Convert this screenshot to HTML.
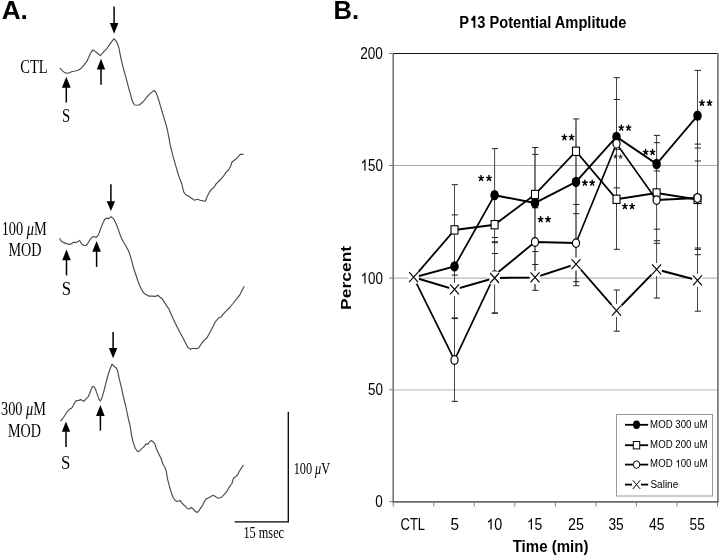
<!DOCTYPE html>
<html><head><meta charset="utf-8"><style>
html,body{margin:0;padding:0;background:#fff;}
svg{display:block;will-change:transform;}
</style></head><body>
<svg width="720" height="556" viewBox="0 0 720 556">
<rect width="720" height="556" fill="#fff"/>
<text transform="translate(1.64,19.00) scale(1.0017,1)" font-family='"Liberation Sans", sans-serif' font-weight="bold" font-size="26.18" fill="#000" >A.</text>
<text transform="translate(333.48,19.00) scale(0.9651,1)" font-family='"Liberation Sans", sans-serif' font-weight="bold" font-size="26.47" fill="#000" >B.</text>
<text transform="translate(20.22,73.00) scale(0.7868,1)" font-family='"Liberation Serif", serif' font-weight="normal" font-size="18.42" fill="#000" >CTL</text>
<text transform="translate(62.01,122.30) scale(0.8274,1)" font-family='"Liberation Serif", serif' font-weight="normal" font-size="17.81" fill="#000" >S</text>
<text transform="translate(61.86,294.50) scale(0.9376,1)" font-family='"Liberation Serif", serif' font-weight="normal" font-size="17.96" fill="#000" >S</text>
<text transform="translate(61.06,469.10) scale(0.9146,1)" font-family='"Liberation Serif", serif' font-weight="normal" font-size="18.42" fill="#000" >S</text>
<text transform="translate(1.64,234.70) scale(0.7891,1)" font-family='"Liberation Serif", serif' font-weight="normal" font-size="18.20" fill="#000" >100 <tspan font-style="italic">μ</tspan>M</text>
<text transform="translate(8.47,256.30) scale(0.7957,1)" font-family='"Liberation Serif", serif' font-weight="normal" font-size="17.81" fill="#000" >MOD</text>
<text transform="translate(1.02,414.90) scale(0.7926,1)" font-family='"Liberation Serif", serif' font-weight="normal" font-size="18.05" fill="#000" >300 <tspan font-style="italic">μ</tspan>M</text>
<text transform="translate(7.88,437.40) scale(0.7672,1)" font-family='"Liberation Serif", serif' font-weight="normal" font-size="18.42" fill="#000" >MOD</text>
<text transform="translate(293.63,473.80) scale(0.7290,1)" font-family='"Liberation Serif", serif' font-weight="normal" font-size="16.84" fill="#000" >100 <tspan font-style="italic">μ</tspan>V</text>
<text transform="translate(243.42,537.60) scale(0.7736,1)" font-family='"Liberation Serif", serif' font-weight="normal" font-size="15.91" fill="#000" >15 msec</text>
<path d="M288.3 411.7 V521.8 H234.7" fill="none" stroke="#000" stroke-width="1.3"/>
<path d="M66.30 76.70 L70.70 87.70 L61.90 87.70 Z" fill="#000"/><line x1="66.30" y1="86.70" x2="66.30" y2="102.60" stroke="#000" stroke-width="1.5"/>
<path d="M101.00 58.80 L105.20 69.60 L96.80 69.60 Z" fill="#000"/><line x1="101.00" y1="68.60" x2="101.00" y2="84.70" stroke="#000" stroke-width="1.5"/>
<path d="M114.10 33.80 L118.40 23.00 L109.80 23.00 Z" fill="#000"/><line x1="114.10" y1="24.00" x2="114.10" y2="6.50" stroke="#000" stroke-width="1.5"/>
<path d="M66.50 249.50 L70.80 260.30 L62.20 260.30 Z" fill="#000"/><line x1="66.50" y1="259.30" x2="66.50" y2="275.40" stroke="#000" stroke-width="1.5"/>
<path d="M96.60 241.00 L100.90 251.80 L92.30 251.80 Z" fill="#000"/><line x1="96.60" y1="250.80" x2="96.60" y2="266.90" stroke="#000" stroke-width="1.5"/>
<path d="M110.90 210.90 L115.10 201.30 L106.70 201.30 Z" fill="#000"/><line x1="110.90" y1="202.30" x2="110.90" y2="184.30" stroke="#000" stroke-width="1.5"/>
<path d="M66.00 421.60 L70.20 431.70 L61.80 431.70 Z" fill="#000"/><line x1="66.00" y1="430.70" x2="66.00" y2="447.10" stroke="#000" stroke-width="1.5"/>
<path d="M100.40 405.10 L104.70 415.90 L96.10 415.90 Z" fill="#000"/><line x1="100.40" y1="414.90" x2="100.40" y2="430.60" stroke="#000" stroke-width="1.5"/>
<path d="M113.10 358.30 L117.30 348.00 L108.90 348.00 Z" fill="#000"/><line x1="113.10" y1="349.00" x2="113.10" y2="332.00" stroke="#000" stroke-width="1.5"/>
<polyline points="60.0,68.1 62.2,70.6 65.1,72.9 67.9,73.2 69.4,72.7 71.5,71.7 75.1,71.0 78.0,70.3 80.9,68.6 83.8,65.3 86.7,61.7 88.4,58.1 90.3,53.7 92.7,49.9 94.6,50.9 97.4,53.3 100.3,55.6 102.5,53.0 104.6,50.9 106.8,48.7 109.7,44.4 112.3,40.8 113.8,38.8 115.5,40.2 117.5,43.6 118.9,47.7 119.9,53.2 121.0,58.7 122.3,64.1 123.7,69.6 125.3,75.1 127.1,81.9 128.9,88.8 130.5,94.3 131.9,99.8 133.3,103.2 134.7,105.0 137.4,105.2 139.6,104.8 143.0,102.0 146.6,97.4 150.2,93.4 154.2,90.5 156.0,92.4 158.8,100.3 161.7,110.4 163.9,117.6 166.0,124.7 167.5,130.5 168.9,137.7 170.1,144.4 172.9,155.9 175.8,165.9 178.7,176.0 181.6,183.2 183.7,191.8 185.9,195.0 188.8,196.1 191.6,198.3 194.5,200.2 197.4,199.3 200.3,200.2 203.1,200.9 205.3,201.2 207.4,196.1 209.6,191.8 211.8,188.9 213.9,187.5 216.1,183.9 219.0,181.0 221.8,178.2 224.0,175.3 226.1,172.4 229.0,169.5 230.4,166.7 231.9,162.3 234.0,160.5 236.2,158.8 238.3,156.6 240.5,154.2 243.4,154.4" fill="none" stroke="#4a4a4a" stroke-width="1.15" stroke-linejoin="round"/>
<polyline points="59.6,238.3 61.5,241.6 63.6,242.6 66.5,243.6 69.4,244.5 71.5,243.6 73.7,242.2 75.9,242.6 78.0,241.6 79.7,240.4 81.6,244.0 83.8,245.5 85.9,245.5 87.8,243.3 90.3,239.3 92.6,236.5 94.4,236.7 96.2,237.4 98.4,234.9 99.8,231.3 100.3,229.6 102.5,223.9 104.6,219.6 106.8,218.1 108.5,218.8 110.4,217.1 111.2,216.8 113.7,218.9 116.1,223.8 118.0,228.6 120.2,235.1 122.3,240.0 124.2,243.2 126.6,247.3 128.7,251.3 130.4,256.2 132.0,261.9 133.6,268.3 135.6,274.0 137.5,279.7 139.2,284.6 141.6,289.6 143.7,293.0 145.9,294.4 148.8,296.1 151.7,296.1 155.3,296.4 158.1,295.4 160.3,297.6 162.4,299.0 164.6,302.6 166.8,306.2 168.9,308.8 170.7,313.2 173.1,318.8 176.3,325.3 179.6,331.8 182.8,337.5 185.2,342.3 187.7,347.2 190.1,349.1 193.3,348.3 196.6,348.6 198.7,348.0 200.6,344.7 203.8,340.7 207.1,337.5 210.3,331.8 212.8,326.9 215.2,322.1 218.4,318.0 220.8,317.2 224.1,313.2 227.3,309.9 229.7,307.5 233.0,303.5 236.2,299.4 239.5,295.4 241.9,290.5 244.3,286.2" fill="none" stroke="#4a4a4a" stroke-width="1.15" stroke-linejoin="round"/>
<polyline points="60.5,421.2 62.9,418.3 65.1,415.0 67.2,411.6 69.4,409.3 71.5,408.3 73.0,406.1 74.4,403.0 76.3,400.6 78.7,400.4 80.6,399.6 82.3,400.6 84.1,401.1 85.9,398.9 88.1,396.8 89.8,393.2 91.3,389.1 92.7,386.3 94.1,386.7 95.6,389.6 97.4,394.6 98.9,398.9 100.3,401.0 101.8,398.2 103.9,391.0 106.1,382.4 108.2,374.5 110.4,368.0 112.0,364.2 113.8,366.0 114.2,366.5 116.3,367.9 117.8,371.5 119.2,378.7 121.4,387.3 123.5,397.4 125.7,406.0 127.8,416.1 130.0,425.5 131.6,435.5 133.2,442.4 135.1,447.7 137.0,451.0 138.7,451.7 140.1,450.3 142.3,448.1 144.5,446.3 145.9,443.8 147.6,444.5 149.5,441.9 151.4,440.5 153.1,441.9 154.8,443.8 156.7,449.6 158.8,453.9 161.0,458.2 162.9,464.0 165.0,467.5 166.3,471.3 167.5,478.8 169.4,486.3 171.3,492.5 173.1,497.5 175.0,500.3 176.9,501.5 178.8,501.0 180.3,500.6 181.9,503.1 183.8,504.8 185.6,506.5 187.5,508.8 189.4,509.0 191.3,507.5 193.1,508.8 195.0,511.0 196.9,512.5 198.8,511.0 200.6,508.1 202.5,505.6 204.4,501.3 206.3,498.8 208.1,498.1 210.0,496.9 213.1,495.3 215.0,496.3 217.5,498.1 220.0,497.8 221.9,496.9 224.4,494.4 226.9,491.3 229.4,486.9 231.9,483.5 233.5,478.1 235.6,476.9 237.5,475.0 239.4,471.3 241.3,468.1 243.5,465.0" fill="none" stroke="#4a4a4a" stroke-width="1.15" stroke-linejoin="round"/>
<line x1="393.2" y1="165.5" x2="717.5" y2="165.5" stroke="#a8a8a8" stroke-width="1.0"/>
<line x1="393.2" y1="278.1" x2="717.5" y2="278.1" stroke="#b8b8b8" stroke-width="1.3"/>
<line x1="393.2" y1="389.8" x2="717.5" y2="389.8" stroke="#c4c4c4" stroke-width="1.3"/>
<line x1="393.2" y1="53.5" x2="717.9" y2="53.5" stroke="#111" stroke-width="1.15"/>
<line x1="717.9" y1="53.0" x2="717.9" y2="502.6" stroke="#777" stroke-width="1.7"/>
<line x1="393.2" y1="53.5" x2="393.2" y2="502.6" stroke="#757575" stroke-width="1.6"/>
<line x1="392.4" y1="501.9" x2="718.7" y2="501.9" stroke="#6a6a6a" stroke-width="1.7"/>
<line x1="389" y1="53.5" x2="393.2" y2="53.5" stroke="#808080" stroke-width="1"/>
<line x1="389" y1="165.5" x2="393.2" y2="165.5" stroke="#808080" stroke-width="1"/>
<line x1="389" y1="278.1" x2="393.2" y2="278.1" stroke="#808080" stroke-width="1"/>
<line x1="389" y1="389.8" x2="393.2" y2="389.8" stroke="#808080" stroke-width="1"/>
<line x1="389" y1="501.7" x2="393.2" y2="501.7" stroke="#808080" stroke-width="1"/>
<line x1="393.20" y1="501.7" x2="393.20" y2="506.5" stroke="#808080" stroke-width="1"/>
<line x1="433.74" y1="501.7" x2="433.74" y2="506.5" stroke="#808080" stroke-width="1"/>
<line x1="474.27" y1="501.7" x2="474.27" y2="506.5" stroke="#808080" stroke-width="1"/>
<line x1="514.81" y1="501.7" x2="514.81" y2="506.5" stroke="#808080" stroke-width="1"/>
<line x1="555.35" y1="501.7" x2="555.35" y2="506.5" stroke="#808080" stroke-width="1"/>
<line x1="595.89" y1="501.7" x2="595.89" y2="506.5" stroke="#808080" stroke-width="1"/>
<line x1="636.42" y1="501.7" x2="636.42" y2="506.5" stroke="#808080" stroke-width="1"/>
<line x1="676.96" y1="501.7" x2="676.96" y2="506.5" stroke="#808080" stroke-width="1"/>
<line x1="717.50" y1="501.7" x2="717.50" y2="506.5" stroke="#808080" stroke-width="1"/>
<text transform="translate(360.22,58.75) scale(0.8253,1)" font-family='"Liberation Sans", sans-serif' font-weight="normal" font-size="16.49" fill="#000" >200</text>
<g transform="translate(360.54,170.75) scale(0.7961,1)"><text font-family='"Liberation Sans", sans-serif' font-weight="normal" font-size="16.85" fill="#000" > 50</text><path transform="translate(0.000,0) scale(0.008226,-0.008226)" d="M763 0H583V1098Q518 1038 412.5 979T223 890V1057Q375 1125 489 1221T650 1409H763Z" fill="#000"/></g>
<g transform="translate(360.54,283.50) scale(0.8352,1)"><text font-family='"Liberation Sans", sans-serif' font-weight="normal" font-size="16.06" fill="#000" > 00</text><path transform="translate(0.000,0) scale(0.007841,-0.007841)" d="M763 0H583V1098Q518 1038 412.5 979T223 890V1057Q375 1125 489 1221T650 1409H763Z" fill="#000"/></g>
<text transform="translate(367.96,395.00) scale(0.8460,1)" font-family='"Liberation Sans", sans-serif' font-weight="normal" font-size="15.91" fill="#000" >50</text>
<text transform="translate(375.26,506.90) scale(0.8644,1)" font-family='"Liberation Sans", sans-serif' font-weight="normal" font-size="15.63" fill="#000" >0</text>
<text transform="translate(400.55,529.60) scale(0.8074,1)" font-family='"Liberation Sans", sans-serif' font-weight="normal" font-size="16.06" fill="#000" >CTL</text>
<text transform="translate(450.39,529.60) scale(0.9434,1)" font-family='"Liberation Sans", sans-serif' font-weight="normal" font-size="16.29" fill="#000" >5</text>
<g transform="translate(486.34,529.60) scale(0.8919,1)"><text font-family='"Liberation Sans", sans-serif' font-weight="normal" font-size="16.06" fill="#000" > 0</text><path transform="translate(0.000,0) scale(0.007841,-0.007841)" d="M763 0H583V1098Q518 1038 412.5 979T223 890V1057Q375 1125 489 1221T650 1409H763Z" fill="#000"/></g>
<g transform="translate(526.78,529.60) scale(0.8564,1)"><text font-family='"Liberation Sans", sans-serif' font-weight="normal" font-size="16.28" fill="#000" > 5</text><path transform="translate(0.000,0) scale(0.007949,-0.007949)" d="M763 0H583V1098Q518 1038 412.5 979T223 890V1057Q375 1125 489 1221T650 1409H763Z" fill="#000"/></g>
<text transform="translate(568.08,529.60) scale(0.8914,1)" font-family='"Liberation Sans", sans-serif' font-weight="normal" font-size="16.06" fill="#000" >25</text>
<text transform="translate(608.48,529.60) scale(0.8565,1)" font-family='"Liberation Sans", sans-serif' font-weight="normal" font-size="16.06" fill="#000" >35</text>
<text transform="translate(649.09,529.60) scale(0.8497,1)" font-family='"Liberation Sans", sans-serif' font-weight="normal" font-size="16.29" fill="#000" >45</text>
<text transform="translate(689.55,529.60) scale(0.8463,1)" font-family='"Liberation Sans", sans-serif' font-weight="normal" font-size="16.29" fill="#000" >55</text>
<g transform="translate(459.31,27.70) scale(0.8432,1)"><text font-family='"Liberation Sans", sans-serif' font-weight="bold" font-size="17.38" fill="#000" >P 3 Potential Amplitude</text><path transform="translate(11.592,0) scale(0.008486,-0.008486)" d="M875 0H615V790L290 890V1060Q480 1140 600 1409H875Z" fill="#000"/></g>
<text transform="translate(512.71,551.70) scale(0.8651,1)" font-family='"Liberation Sans", sans-serif' font-weight="bold" font-size="17.38" fill="#000" >Time (min)</text>
<text transform="translate(350.70,309.88) rotate(-90) scale(1.1230,1)" font-family='"Liberation Sans", sans-serif' font-weight="bold" font-size="15.56" fill="#000">Percent</text>
<line x1="454.50" y1="184.70" x2="454.50" y2="317.90" stroke="#444" stroke-width="1.0"/>
<line x1="454.50" y1="318.60" x2="454.50" y2="401.40" stroke="#444" stroke-width="1.0"/>
<line x1="494.60" y1="148.60" x2="494.60" y2="313.30" stroke="#444" stroke-width="1.0"/>
<line x1="535.00" y1="147.50" x2="535.00" y2="290.30" stroke="#222" stroke-width="1.2"/>
<line x1="576.00" y1="118.90" x2="576.00" y2="285.70" stroke="#222" stroke-width="1.2"/>
<line x1="616.50" y1="77.70" x2="616.50" y2="249.30" stroke="#444" stroke-width="1.0"/>
<line x1="616.50" y1="290.00" x2="616.50" y2="331.20" stroke="#444" stroke-width="1.0"/>
<line x1="656.60" y1="135.40" x2="656.60" y2="298.10" stroke="#444" stroke-width="1.0"/>
<line x1="697.50" y1="70.40" x2="697.50" y2="311.20" stroke="#444" stroke-width="1.0"/>
<path d="M451.70 214.90H457.90 M451.70 317.90H457.90 M451.70 184.70H457.90 M451.70 275.10H457.90 M451.70 318.60H457.90 M451.70 401.40H457.90 M491.80 148.60H498.00 M491.80 241.80H498.00 M491.80 195.90H498.00 M491.80 253.50H498.00 M491.80 237.50H498.00 M491.80 312.90H498.00 M491.80 242.70H498.00 M491.80 313.30H498.00 M532.20 154.40H538.40 M532.20 251.60H538.40 M532.20 147.50H538.40 M532.20 241.50H538.40 M532.20 207.80H538.40 M532.20 276.20H538.40 M532.20 264.50H538.40 M532.20 290.30H538.40 M573.20 149.90H579.40 M573.20 213.70H579.40 M573.20 118.90H579.40 M573.20 183.70H579.40 M573.20 204.50H579.40 M573.20 281.70H579.40 M573.20 242.50H579.40 M573.20 285.70H579.40 M613.70 77.70H619.90 M613.70 195.90H619.90 M613.70 149.30H619.90 M613.70 249.30H619.90 M613.70 99.50H619.90 M613.70 187.90H619.90 M613.70 290.00H619.90 M613.70 331.20H619.90 M653.80 135.40H660.00 M653.80 192.60H660.00 M653.80 142.70H660.00 M653.80 243.30H660.00 M653.80 171.00H660.00 M653.80 229.20H660.00 M653.80 240.70H660.00 M653.80 298.10H660.00 M694.70 70.40H700.90 M694.70 161.00H700.90 M694.70 144.10H700.90 M694.70 254.70H700.90 M694.70 148.00H700.90 M694.70 248.00H700.90 M694.70 249.40H700.90 M694.70 311.20H700.90" stroke="#222" stroke-width="1" fill="none"/>
<path d="M615.50 156.60 L615.50 154.66 M615.50 156.60 L613.88 155.95 M615.50 156.60 L617.12 155.95 M615.50 156.60 L614.46 158.22 M615.50 156.60 L616.54 158.22" stroke="#333" stroke-width="1.04" stroke-linecap="round" fill="none"/>
<path d="M620.60 156.60 L620.60 154.66 M620.60 156.60 L618.98 155.95 M620.60 156.60 L622.22 155.95 M620.60 156.60 L619.56 158.22 M620.60 156.60 L621.64 158.22" stroke="#333" stroke-width="1.04" stroke-linecap="round" fill="none"/>
<g transform="translate(393.2 0) scale(0.8 1) translate(-393.2 0)"><polyline points="418.70,277.50 469.82,266.40 519.95,195.20 570.45,203.00 621.70,181.80 672.33,136.80 722.45,164.00 773.58,115.70" fill="none" stroke="#000" stroke-width="2.0" stroke-linejoin="miter"/></g>
<ellipse cx="413.60" cy="277.50" rx="4.25" ry="5.15" fill="#000"/>
<ellipse cx="454.50" cy="266.40" rx="4.25" ry="5.15" fill="#000"/>
<ellipse cx="494.60" cy="195.20" rx="4.25" ry="5.15" fill="#000"/>
<ellipse cx="535.00" cy="203.00" rx="4.25" ry="5.15" fill="#000"/>
<ellipse cx="576.00" cy="181.80" rx="4.25" ry="5.15" fill="#000"/>
<ellipse cx="616.50" cy="136.80" rx="4.25" ry="5.15" fill="#000"/>
<ellipse cx="656.60" cy="164.00" rx="4.25" ry="5.15" fill="#000"/>
<ellipse cx="697.50" cy="115.70" rx="4.25" ry="5.15" fill="#000"/>
<g transform="translate(393.2 0) scale(0.8 1) translate(-393.2 0)"><polyline points="418.70,277.50 469.82,229.90 519.95,224.70 570.45,194.50 621.70,151.30 672.33,199.30 722.45,193.00 773.58,199.40" fill="none" stroke="#000" stroke-width="2.0" stroke-linejoin="miter"/></g>
<rect x="410.10" y="273.35" width="7.0" height="8.3" fill="#fff" stroke="#000" stroke-width="1.1"/>
<rect x="451.00" y="225.75" width="7.0" height="8.3" fill="#fff" stroke="#000" stroke-width="1.1"/>
<rect x="491.10" y="220.55" width="7.0" height="8.3" fill="#fff" stroke="#000" stroke-width="1.1"/>
<rect x="531.50" y="190.35" width="7.0" height="8.3" fill="#fff" stroke="#000" stroke-width="1.1"/>
<rect x="572.50" y="147.15" width="7.0" height="8.3" fill="#fff" stroke="#000" stroke-width="1.1"/>
<rect x="613.00" y="195.15" width="7.0" height="8.3" fill="#fff" stroke="#000" stroke-width="1.1"/>
<rect x="653.10" y="188.85" width="7.0" height="8.3" fill="#fff" stroke="#000" stroke-width="1.1"/>
<rect x="694.00" y="195.25" width="7.0" height="8.3" fill="#fff" stroke="#000" stroke-width="1.1"/>
<g transform="translate(393.2 0) scale(0.8 1) translate(-393.2 0)"><polyline points="418.70,277.50 469.82,360.00 519.95,275.20 570.45,242.00 621.70,243.10 672.33,143.70 722.45,200.10 773.58,198.00" fill="none" stroke="#000" stroke-width="2.0" stroke-linejoin="miter"/></g>
<ellipse cx="413.60" cy="277.50" rx="3.55" ry="4.3" fill="#fff" stroke="#000" stroke-width="1.2"/>
<ellipse cx="454.50" cy="360.00" rx="3.55" ry="4.3" fill="#fff" stroke="#000" stroke-width="1.2"/>
<ellipse cx="494.60" cy="275.20" rx="3.55" ry="4.3" fill="#fff" stroke="#000" stroke-width="1.2"/>
<ellipse cx="535.00" cy="242.00" rx="3.55" ry="4.3" fill="#fff" stroke="#000" stroke-width="1.2"/>
<ellipse cx="576.00" cy="243.10" rx="3.55" ry="4.3" fill="#fff" stroke="#000" stroke-width="1.2"/>
<ellipse cx="616.50" cy="143.70" rx="3.55" ry="4.3" fill="#fff" stroke="#000" stroke-width="1.2"/>
<ellipse cx="656.60" cy="200.10" rx="3.55" ry="4.3" fill="#fff" stroke="#000" stroke-width="1.2"/>
<ellipse cx="697.50" cy="198.00" rx="3.55" ry="4.3" fill="#fff" stroke="#000" stroke-width="1.2"/>
<g transform="translate(393.2 0) scale(0.8 1) translate(-393.2 0)"><polyline points="418.70,277.20 469.82,289.40 519.95,278.00 570.45,277.40 621.70,264.10 672.33,310.60 722.45,269.40 773.58,280.30" fill="none" stroke="#000" stroke-width="2.0" stroke-linejoin="miter"/></g>
<rect x="408.30" y="270.70" width="10.6" height="13" rx="2.6" ry="2.6" fill="#fff"/><path d="M409.10 272.20 L418.10 282.20 M418.10 272.20 L409.10 282.20" stroke="#000" stroke-width="1.15"/>
<rect x="449.20" y="282.90" width="10.6" height="13" rx="2.6" ry="2.6" fill="#fff"/><path d="M450.00 284.40 L459.00 294.40 M459.00 284.40 L450.00 294.40" stroke="#000" stroke-width="1.15"/>
<rect x="489.30" y="271.50" width="10.6" height="13" rx="2.6" ry="2.6" fill="#fff"/><path d="M490.10 273.00 L499.10 283.00 M499.10 273.00 L490.10 283.00" stroke="#000" stroke-width="1.15"/>
<rect x="529.70" y="270.90" width="10.6" height="13" rx="2.6" ry="2.6" fill="#fff"/><path d="M530.50 272.40 L539.50 282.40 M539.50 272.40 L530.50 282.40" stroke="#000" stroke-width="1.15"/>
<rect x="570.70" y="257.60" width="10.6" height="13" rx="2.6" ry="2.6" fill="#fff"/><path d="M571.50 259.10 L580.50 269.10 M580.50 259.10 L571.50 269.10" stroke="#000" stroke-width="1.15"/>
<rect x="611.20" y="304.10" width="10.6" height="13" rx="2.6" ry="2.6" fill="#fff"/><path d="M612.00 305.60 L621.00 315.60 M621.00 305.60 L612.00 315.60" stroke="#000" stroke-width="1.15"/>
<rect x="651.30" y="262.90" width="10.6" height="13" rx="2.6" ry="2.6" fill="#fff"/><path d="M652.10 264.40 L661.10 274.40 M661.10 264.40 L652.10 274.40" stroke="#000" stroke-width="1.15"/>
<rect x="692.20" y="273.80" width="10.6" height="13" rx="2.6" ry="2.6" fill="#fff"/><path d="M693.00 275.30 L702.00 285.30 M702.00 275.30 L693.00 285.30" stroke="#000" stroke-width="1.15"/>
<path d="M481.10 178.20 L481.10 175.50 M481.10 178.20 L478.85 177.30 M481.10 178.20 L483.35 177.30 M481.10 178.20 L479.65 180.45 M481.10 178.20 L482.55 180.45" stroke="#000" stroke-width="1.45" stroke-linecap="round" fill="none"/>
<path d="M489.00 178.20 L489.00 175.50 M489.00 178.20 L486.75 177.30 M489.00 178.20 L491.25 177.30 M489.00 178.20 L487.55 180.45 M489.00 178.20 L490.45 180.45" stroke="#000" stroke-width="1.45" stroke-linecap="round" fill="none"/>
<path d="M540.60 219.40 L540.60 216.70 M540.60 219.40 L538.35 218.50 M540.60 219.40 L542.85 218.50 M540.60 219.40 L539.15 221.65 M540.60 219.40 L542.05 221.65" stroke="#000" stroke-width="1.45" stroke-linecap="round" fill="none"/>
<path d="M548.00 219.40 L548.00 216.70 M548.00 219.40 L545.75 218.50 M548.00 219.40 L550.25 218.50 M548.00 219.40 L546.55 221.65 M548.00 219.40 L549.45 221.65" stroke="#000" stroke-width="1.45" stroke-linecap="round" fill="none"/>
<path d="M564.40 137.30 L564.40 134.60 M564.40 137.30 L562.15 136.40 M564.40 137.30 L566.65 136.40 M564.40 137.30 L562.95 139.55 M564.40 137.30 L565.85 139.55" stroke="#000" stroke-width="1.45" stroke-linecap="round" fill="none"/>
<path d="M571.60 137.30 L571.60 134.60 M571.60 137.30 L569.35 136.40 M571.60 137.30 L573.85 136.40 M571.60 137.30 L570.15 139.55 M571.60 137.30 L573.05 139.55" stroke="#000" stroke-width="1.45" stroke-linecap="round" fill="none"/>
<path d="M584.90 182.90 L584.90 180.20 M584.90 182.90 L582.65 182.00 M584.90 182.90 L587.15 182.00 M584.90 182.90 L583.45 185.15 M584.90 182.90 L586.35 185.15" stroke="#000" stroke-width="1.45" stroke-linecap="round" fill="none"/>
<path d="M592.20 182.90 L592.20 180.20 M592.20 182.90 L589.95 182.00 M592.20 182.90 L594.45 182.00 M592.20 182.90 L590.75 185.15 M592.20 182.90 L593.65 185.15" stroke="#000" stroke-width="1.45" stroke-linecap="round" fill="none"/>
<path d="M621.30 127.80 L621.30 125.10 M621.30 127.80 L619.05 126.90 M621.30 127.80 L623.55 126.90 M621.30 127.80 L619.85 130.05 M621.30 127.80 L622.75 130.05" stroke="#000" stroke-width="1.45" stroke-linecap="round" fill="none"/>
<path d="M628.50 127.80 L628.50 125.10 M628.50 127.80 L626.25 126.90 M628.50 127.80 L630.75 126.90 M628.50 127.80 L627.05 130.05 M628.50 127.80 L629.95 130.05" stroke="#000" stroke-width="1.45" stroke-linecap="round" fill="none"/>
<path d="M624.90 206.30 L624.90 203.60 M624.90 206.30 L622.65 205.40 M624.90 206.30 L627.15 205.40 M624.90 206.30 L623.45 208.55 M624.90 206.30 L626.35 208.55" stroke="#000" stroke-width="1.45" stroke-linecap="round" fill="none"/>
<path d="M632.10 206.30 L632.10 203.60 M632.10 206.30 L629.85 205.40 M632.10 206.30 L634.35 205.40 M632.10 206.30 L630.65 208.55 M632.10 206.30 L633.55 208.55" stroke="#000" stroke-width="1.45" stroke-linecap="round" fill="none"/>
<path d="M645.60 152.20 L645.60 149.50 M645.60 152.20 L643.35 151.30 M645.60 152.20 L647.85 151.30 M645.60 152.20 L644.15 154.45 M645.60 152.20 L647.05 154.45" stroke="#000" stroke-width="1.45" stroke-linecap="round" fill="none"/>
<path d="M652.50 152.20 L652.50 149.50 M652.50 152.20 L650.25 151.30 M652.50 152.20 L654.75 151.30 M652.50 152.20 L651.05 154.45 M652.50 152.20 L653.95 154.45" stroke="#000" stroke-width="1.45" stroke-linecap="round" fill="none"/>
<path d="M702.00 103.00 L702.00 100.30 M702.00 103.00 L699.75 102.10 M702.00 103.00 L704.25 102.10 M702.00 103.00 L700.55 105.25 M702.00 103.00 L703.45 105.25" stroke="#000" stroke-width="1.45" stroke-linecap="round" fill="none"/>
<path d="M709.50 103.00 L709.50 100.30 M709.50 103.00 L707.25 102.10 M709.50 103.00 L711.75 102.10 M709.50 103.00 L708.05 105.25 M709.50 103.00 L710.95 105.25" stroke="#000" stroke-width="1.45" stroke-linecap="round" fill="none"/>
<rect x="616.5" y="414.5" width="96" height="81.5" fill="#fff" stroke="#999" stroke-width="1"/>
<line x1="625" y1="424.8" x2="648.2" y2="424.8" stroke="#000" stroke-width="1.8"/>
<ellipse cx="636.5" cy="424.8" rx="3.5" ry="4.2" fill="#000"/>
<text transform="translate(650.10,427.70) scale(0.8761,1)" font-family='"Liberation Sans", sans-serif' font-weight="normal" font-size="11.04" fill="#000" >MOD 300 uM</text>
<line x1="625" y1="445.2" x2="648.2" y2="445.2" stroke="#000" stroke-width="1.8"/>
<rect x="633.3" y="441.5" width="6.4" height="7.4" fill="#fff" stroke="#000" stroke-width="1"/>
<text transform="translate(650.10,447.70) scale(0.8761,1)" font-family='"Liberation Sans", sans-serif' font-weight="normal" font-size="11.04" fill="#000" >MOD 200 uM</text>
<line x1="625" y1="464.6" x2="648.2" y2="464.6" stroke="#000" stroke-width="1.8"/>
<ellipse cx="636.5" cy="464.6" rx="3.2" ry="3.8" fill="#fff" stroke="#000" stroke-width="1"/>
<g transform="translate(650.10,467.40) scale(0.8761,1)"><text font-family='"Liberation Sans", sans-serif' font-weight="normal" font-size="11.04" fill="#000" >MOD  00 uM</text><path transform="translate(28.822,0) scale(0.005390,-0.005390)" d="M763 0H583V1098Q518 1038 412.5 979T223 890V1057Q375 1125 489 1221T650 1409H763Z" fill="#000"/></g>
<line x1="625" y1="484.6" x2="648.2" y2="484.6" stroke="#000" stroke-width="1.8"/>
<rect x="632.0" y="479.6" width="9" height="10" fill="#fff"/><path d="M632.8 480.3 L640.2 488.90000000000003 M640.2 480.3 L632.8 488.90000000000003" stroke="#000" stroke-width="1"/>
<text transform="translate(650.45,487.90) scale(0.9416,1)" font-family='"Liberation Sans", sans-serif' font-weight="normal" font-size="10.62" fill="#000" >Saline</text>
</svg>
</body></html>
